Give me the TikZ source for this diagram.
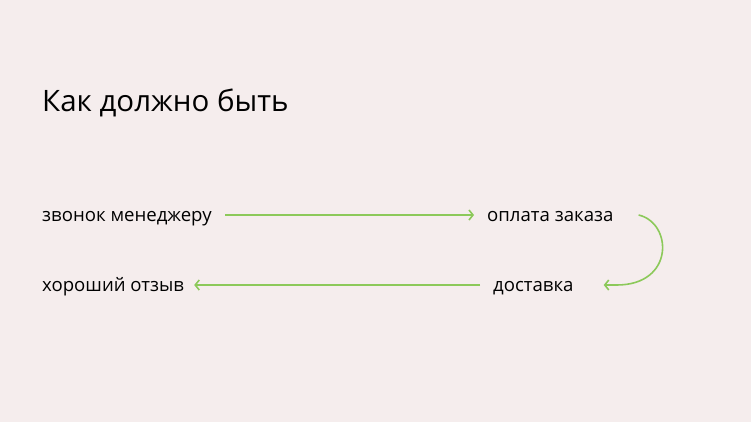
\documentclass[tikz,border=0pt]{standalone}
\usepackage{fontspec}
\setmainfont{Open Sans}
\usepackage{xcolor}
\usetikzlibrary{arrows.meta}
\definecolor{Hintergrund}{HTML}{F5EDED}
\definecolor{Pfeilgruen}{HTML}{8CC95A}
\tikzset{
  Schritt/.style={anchor=base west, inner xsep=13pt, inner ysep=0pt,
    text height=12pt, text depth=0pt, font=\fontsize{18.6}{22}\selectfont}, % Textknoten
  Fluss/.style={draw=Pfeilgruen, line width=1.6pt,
    -{Straight Barb[length=4pt,width=10pt,line width=1.6pt]}} % gruene Pfeile
}
\begin{document}
\begin{tikzpicture}[x=1pt,y=-1pt]
\useasboundingbox[fill=Hintergrund] (0,0) rectangle (751,422);

%Ueberschrift
\node[anchor=base west, inner sep=0pt, font=\fontsize{29.5}{34}\selectfont] (Titel) at (42,112) {Как должно быть};

%Schritte
\node[Schritt] (Anruf) at (29,221) {звонок менеджеру};
\node[Schritt] (Zahlung) at (474,221) {оплата заказа};
\node[Schritt] (Lieferung) at (480,291) {доставка};
\node[Schritt,inner xsep=10pt] (Bewertung) at (32,291) {хороший отзыв};

%Pfeile
\draw[Fluss] (Anruf.east) -- (Zahlung.west);
\draw[Fluss] ([xshift=12pt]Zahlung.east) .. controls +(34,8) and +(58,0) .. ([xshift=30pt]Lieferung.east) -- ([xshift=17pt]Lieferung.east);
\draw[Fluss] (Lieferung.west) -- (Bewertung.east);

\end{tikzpicture}
\end{document}
